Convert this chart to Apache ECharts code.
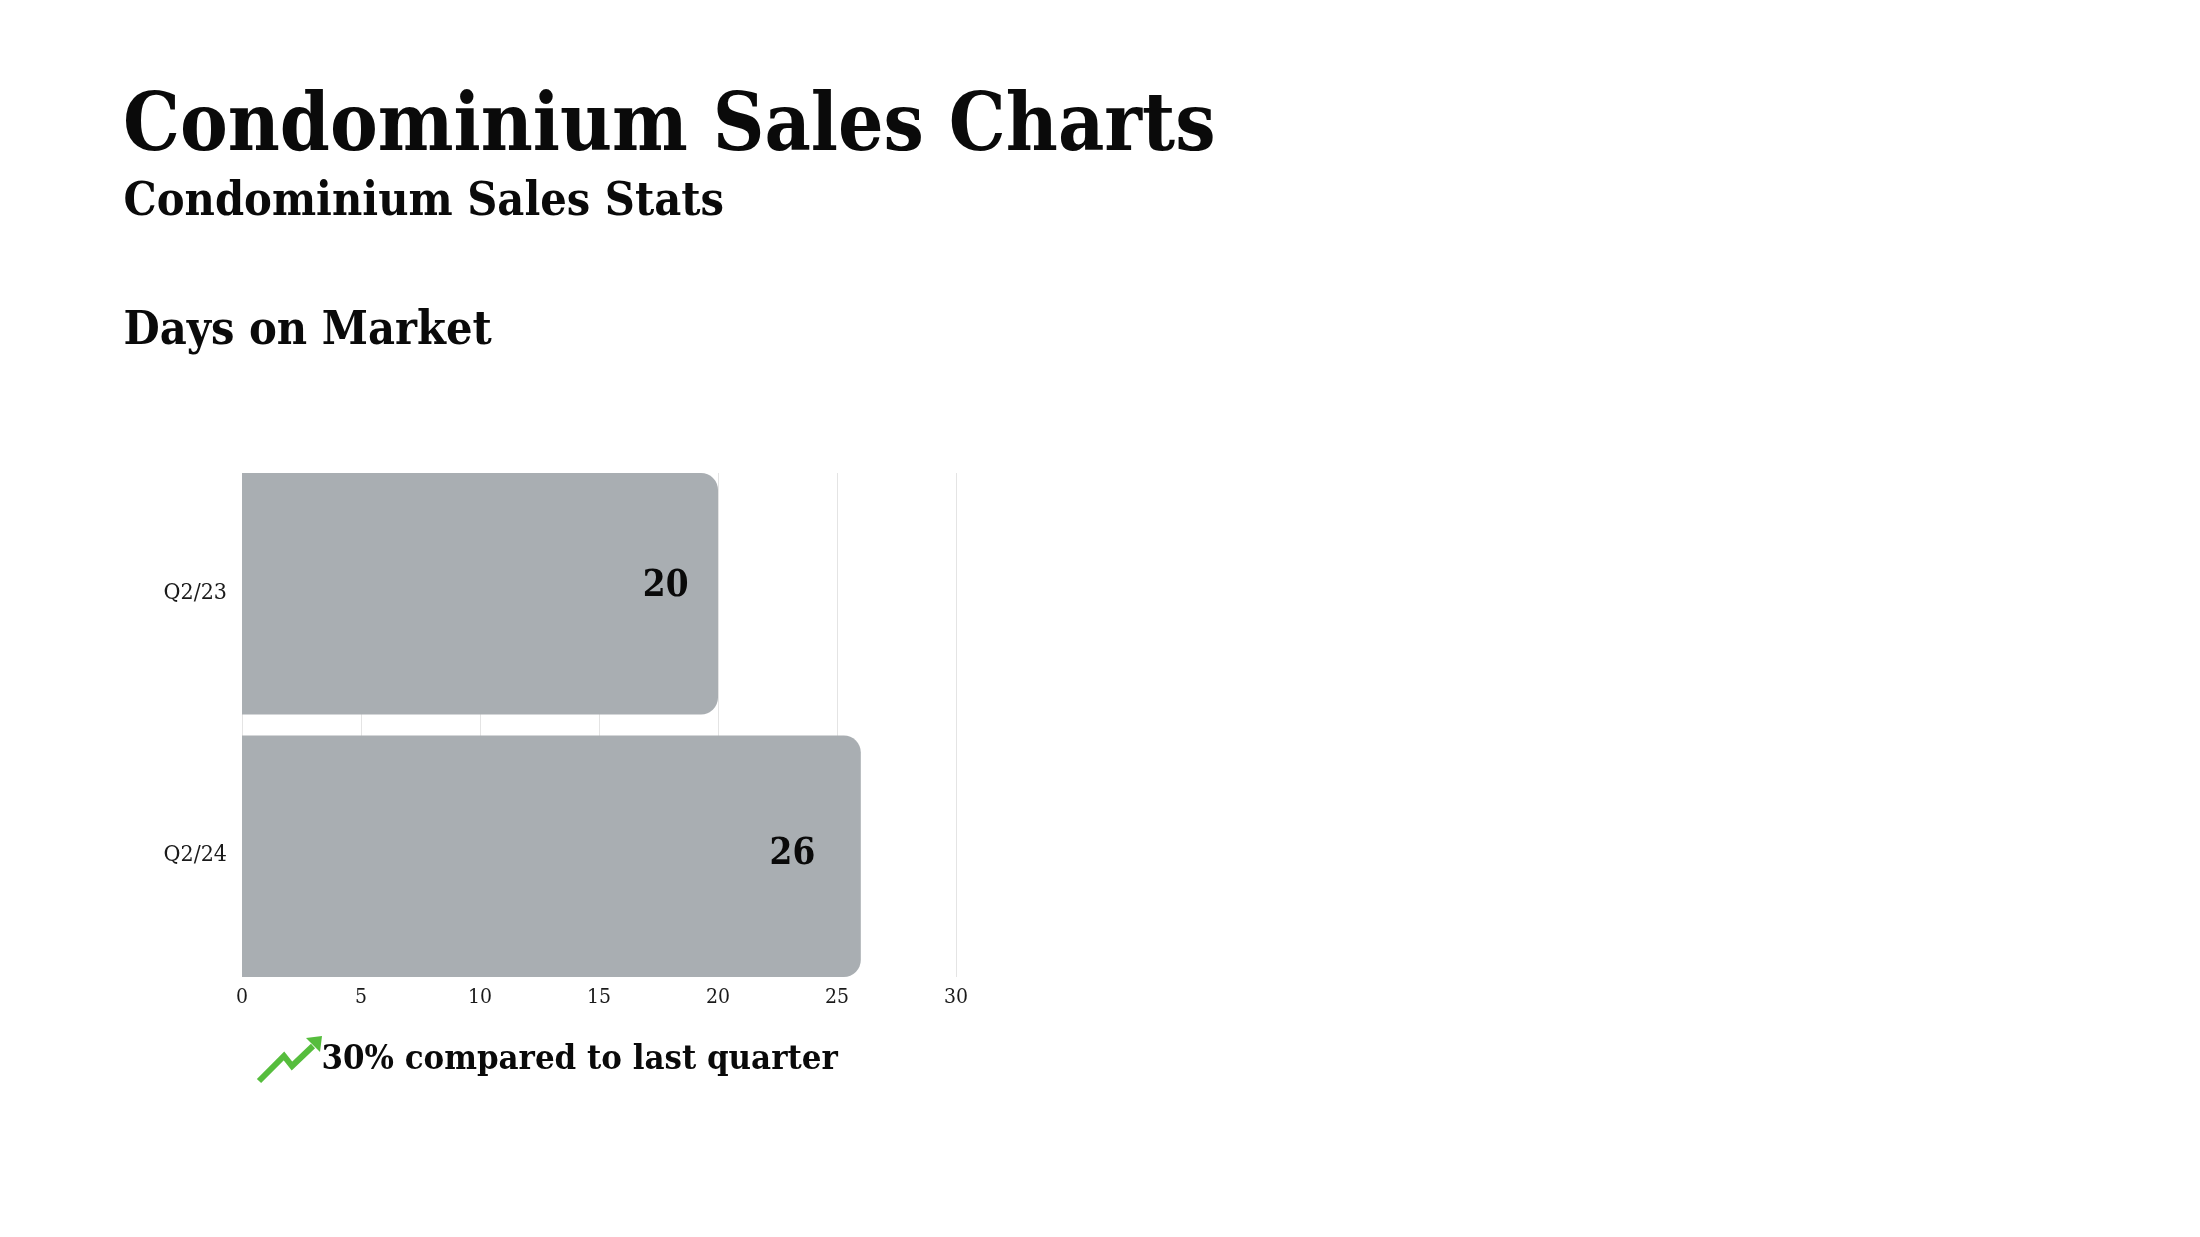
<!DOCTYPE html>
<html>
<head>
<meta charset="utf-8">
<style>html,body{margin:0;padding:0;background:#fff}#c{width:2200px;height:1237px}</style>
<script src="https://cdn.jsdelivr.net/npm/echarts@6/dist/echarts.min.js"></script>
</head>
<body>
<div id="c"></div>
<script>
const categories = ['Q2/23', 'Q2/24'];
const daysOnMarket = [20, 26];
const xTicks = [0, 5, 10, 15, 20, 25, 30];
const mainTitle = 'Condominium Sales Charts';
const subTitle = 'Condominium Sales Stats';
const chartTitle = 'Days on Market';
const noteText = '30% compared to last quarter';

const serif = '"DejaVu Serif Condensed","DejaVu Serif","Liberation Serif",serif';
const chart = echarts.init(document.getElementById('c'), null, {renderer: 'canvas'});
const labelOffsets = [[-24.5, -7], [-40.5, -2]];
const makeSeries = (idx) => ({
  type: 'bar',
  barWidth: 241.5,
  barGap: '-95.65%',
  itemStyle: {color: '#a9aeb2', borderRadius: [0, 17, 17, 0]},
  label: {
    show: true, position: 'insideRight', offset: labelOffsets[idx],
    fontFamily: serif, fontWeight: 'bold', fontSize: 36.5, color: '#0a0a0a'
  },
  data: daysOnMarket.map((v, i) => (i === idx ? v : null))
});

chart.setOption({
  animation: false,
  backgroundColor: '#ffffff',
  title: [
    {text: mainTitle, left: 118, top: 84, textStyle: {fontFamily: serif, fontWeight: 'bold', fontSize: 79.6, color: '#0a0a0a'}},
    {text: subTitle, left: 118.5, top: 175, textStyle: {fontFamily: serif, fontWeight: 'bold', fontSize: 46.4, color: '#0a0a0a'}},
    {text: chartTitle, left: 118.5, top: 304, textStyle: {fontFamily: serif, fontWeight: 'bold', fontSize: 46.4, color: '#0a0a0a'}},
    {text: noteText, left: 316.5, top: 1038, textStyle: {fontFamily: serif, fontWeight: 'bold', fontSize: 34.4, color: '#0a0a0a'}}
  ],
  grid: {left: 242, width: 714, top: 473, height: 504, containLabel: false},
  xAxis: {
    type: 'value', min: 0, max: 30, interval: 5,
    axisLine: {show: false}, axisTick: {show: false},
    splitLine: {show: true, lineStyle: {color: '#e4e4e4', width: 1}},
    axisLabel: {fontFamily: serif, fontSize: 21, color: '#1a1a1a', margin: 10,
      formatter: (v) => (xTicks.includes(v) ? String(v) : '')}
  },
  yAxis: {
    type: 'category', inverse: true, data: categories,
    axisLine: {show: false}, axisTick: {show: false},
    axisLabel: {
      margin: 15,
      formatter: (v, i) => (i === 0 ? '{up|' + v + '}' : '{down|' + v + '}'),
      rich: {
        up: {fontFamily: serif, fontSize: 23, color: '#1a1a1a', padding: [0, 0, 12, 0]},
        down: {fontFamily: serif, fontSize: 23, color: '#1a1a1a', padding: [8, 0, 0, 0]}
      }
    }
  },
  series: [makeSeries(0), makeSeries(1)],
  graphic: [
    {type: 'polyline', silent: true, shape: {points: [[259, 1081], [284, 1056], [292, 1066], [313, 1046]]},
      style: {stroke: '#56bd3d', lineWidth: 6, fill: null}},
    {type: 'polygon', silent: true, shape: {points: [[322, 1036], [306, 1038], [320, 1052]]},
      style: {fill: '#56bd3d'}}
  ]
});
</script>
</body>
</html>
